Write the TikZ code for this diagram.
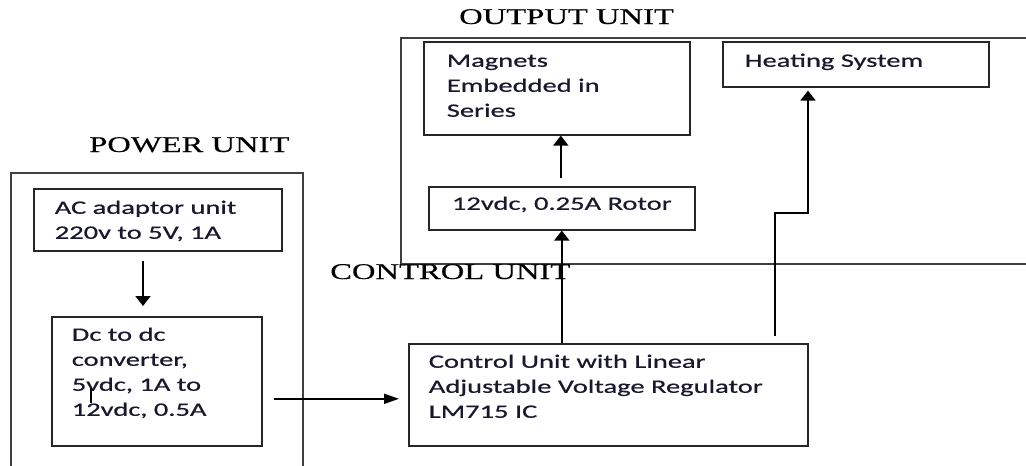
\documentclass[tikz,border=0pt]{standalone}
\usepackage{fontspec}
\usetikzlibrary{arrows.meta,calc}
\newfontfamily\boxfont{Carlito}[FakeStretch=1.5,FakeBold=0.6]
\newfontfamily\labfont{Liberation Serif}[FakeStretch=1.45,FakeBold=0.3]
\definecolor{txt}{RGB}{25,25,45}
\newcommand\bxt[5]{\parbox[c][#2][t]{#1}{\raggedright\setlength\leftskip{#3}\vspace*{#4}\strut #5}}
\newcommand\cbxt[4]{\parbox[c][#2][t]{#1}{\centering\vspace*{#3}\strut #4}}
\begin{document}
\begin{tikzpicture}[x=1pt,y=-1pt,
  box/.style={draw=black!85, line width=1.6pt, inner sep=0pt, anchor=north west, text=txt,
    font=\boxfont\fontsize{19}{25}\selectfont},
  unitbox/.style={draw=black!75, line width=1.6pt, inner sep=0pt, anchor=north west},
  lab/.style={inner sep=0pt, anchor=base west, text=black, font=\labfont\fontsize{22.5}{27}\selectfont},
  conn/.style={draw=black, line width=1.8pt},
  varrow/.style={conn, -{Triangle[length=10pt,width=15pt]}},
  harrow/.style={conn, -{Triangle[length=15pt,width=10pt]}}]
\useasboundingbox (0,0) rectangle (1026,466);
\clip (0,0) rectangle (1026,466);
\fill[white] (0,0) rectangle (1026,466);
% unit frames
\node[unitbox, minimum width=292pt, minimum height=320pt] (power) at (10,172) {};
\node[unitbox, minimum width=660pt, minimum height=226pt] (output) at (400,37) {};
% unit labels
\node[lab] (powerlab) at (89,152) {POWER UNIT};
\node[lab] (outlab) at (459,24) {OUTPUT UNIT};
% blocks
\node[box] (ac) at (33,188) {\bxt{248pt}{62pt}{21pt}{7.5pt}{AC adaptor unit\\220v to 5V, 1A}};
\node[box] (dc) at (51,316) {\bxt{210pt}{129pt}{20pt}{6.5pt}{Dc to dc\\converter,\\5vdc, 1A to\\12vdc, 0.5A}};
\node[box] (mag) at (423,41) {\bxt{266pt}{93pt}{23pt}{7.5pt}{Magnets\\Embedded in\\Series}};
\node[box] (heat) at (722,41) {\bxt{266pt}{45pt}{22pt}{7.5pt}{Heating System}};
\node[box] (rotor) at (428,186) {\cbxt{266pt}{43pt}{5.5pt}{12vdc, 0.25A Rotor}};
\node[box] (ctrl) at (408,343) {\bxt{399pt}{102pt}{20pt}{6.5pt}{Control Unit with Linear\\Adjustable Voltage Regulator\\LM715 IC}};
% helper coordinates on the block edges
\coordinate (a1) at ($(ac.south west)+(110,0)$);
\coordinate (h1) at ($(ctrl.west)+(0,4)$);
\coordinate (r1) at ($(rotor.north)+(-1,0)$);
\coordinate (q1) at ($(ctrl.north east)+(-34,0)$);
\coordinate (q2) at ($(heat.south west)+(86,0)$);
\coordinate (t1) at ($(dc.north west)+(40,72)$);
% connectors
\draw[varrow, shorten <=9pt, shorten >=10pt] (a1) -- (a1 |- dc.north);
\draw[harrow, shorten <=11pt, shorten >=9pt] (h1 -| dc.east) -- (h1);
\draw[varrow] (rotor.south |- ctrl.north) -- (rotor.south);
\draw[varrow, shorten <=8pt] (r1) -- (r1 |- mag.south);
\draw[varrow, shorten <=7pt, shorten >=3pt] (q1) -- ++(0,-130) -| (q2);
\draw[conn, line width=2pt] (t1) -- ++(0,15);
\node[lab] (ctrllab) at (330,279) {CONTROL UNIT};
\end{tikzpicture}
\end{document}
